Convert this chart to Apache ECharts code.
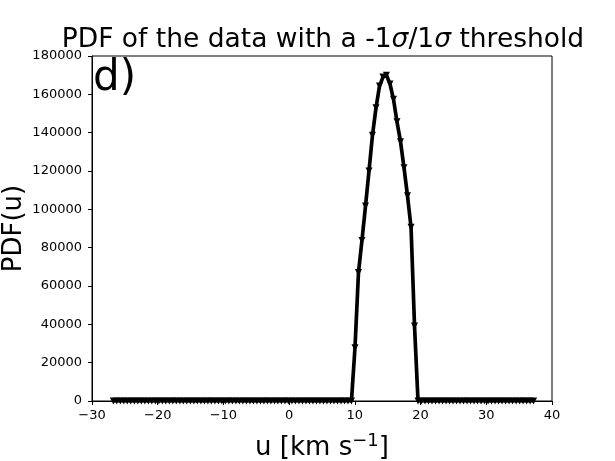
<!DOCTYPE html>
<html>
<head>
<meta charset="utf-8">
<script src="https://cdn.jsdelivr.net/npm/echarts@6/dist/echarts.min.js"></script>
<style>html,body{margin:0;padding:0;background:#fff}#c{width:615px;height:461px}</style>
</head>
<body>
<div id="c"></div>
<script>
var uValues = [
 -26.76,-26.23,-25.69,-25.16,-24.63,-24.10,-23.56,-23.03,-22.50,-21.96,
 -21.43,-20.90,-20.36,-19.83,-19.30,-18.77,-18.23,-17.70,-17.17,-16.63,
 -16.10,-15.57,-15.03,-14.50,-13.97,-13.43,-12.90,-12.37,-11.84,-11.30,
 -10.77,-10.24,-9.70,-9.17,-8.64,-8.11,-7.57,-7.04,-6.51,-5.97,
 -5.44,-4.91,-4.37,-3.84,-3.31,-2.78,-2.24,-1.71,-1.18,-0.64,
 -0.11,0.42,0.96,1.49,2.02,2.56,3.09,3.62,4.15,4.69,
 5.22,5.75,6.29,6.82,7.35,7.89,8.42,8.95,9.48,10.02,
 10.55,11.08,11.62,12.15,12.68,13.22,13.75,14.28,14.81,15.35,
 15.88,16.41,16.95,17.48,18.01,18.55,19.08,19.61,20.14,20.68,
 21.21,21.74,22.28,22.81,23.34,23.88,24.41,24.94,25.47,26.01,
 26.54,27.07,27.61,28.14,28.67,29.21,29.74,30.27,30.80,31.34,
 31.87,32.40,32.94,33.47,34.00,34.54,35.07,35.60,36.14,36.67,
 37.20
];
var pdfValues = [
 0,0,0,0,0,0,0,0,0,0,
 0,0,0,0,0,0,0,0,0,0,
 0,0,0,0,0,0,0,0,0,0,
 0,0,0,0,0,0,0,0,0,0,
 0,0,0,0,0,0,0,0,0,0,
 0,0,0,0,0,0,0,0,0,0,
 0,0,0,0,0,0,0,0,0,27800,
 67000,83800,101700,120000,138600,153000,164300,169000,170000,165400,
 157400,145700,135300,121700,107100,90600,39100,0,0,0,
 0,0,0,0,0,0,0,0,0,0,
 0,0,0,0,0,0,0,0,0,0,
 0,0,0,0,0,0,0,0,0,0,
 0
];
var xTicks = [-30,-20,-10,0,10,20,30,40];
var yTicks = [0,20000,40000,60000,80000,100000,120000,140000,160000,180000];

var data = uValues.map(function(u,i){return [u,pdfValues[i]];});
var fam = 'DejaVu Sans';
var chart = echarts.init(document.getElementById('c'));
chart.setOption({
  animation:false,
  backgroundColor:'#fff',
  title:{
    text:'PDF of the data with a -1{i|σ}/1{i|σ} threshold',
    left:318, top:22, textAlign:'center',
    textStyle:{fontFamily:fam,fontSize:26.5,fontWeight:'normal',color:'#000',
      rich:{i:{fontFamily:fam,fontSize:26.5,fontStyle:'italic',color:'#000'}}}
  },
  grid:{left:92,right:63,top:56,bottom:60,show:true,borderColor:'#000',borderWidth:1,
    backgroundColor:'transparent',outerBoundsMode:'none',containLabel:false},
  xAxis:{
    type:'value',min:xTicks[0],max:xTicks[xTicks.length-1],interval:10,
    name:'u [km s{s|−1}]',nameLocation:'middle',nameGap:31,nameMoveOverlap:false,
    nameTextStyle:{fontFamily:fam,fontSize:26,color:'#000',
      rich:{s:{fontFamily:fam,fontSize:18,verticalAlign:'top',padding:[0,0,14,0],color:'#000'}}},
    axisLine:{show:true,onZero:false,lineStyle:{color:'#000',width:1}},
    axisTick:{show:true,inside:false,length:4,lineStyle:{color:'#000'}},
    axisLabel:{fontFamily:fam,fontSize:13,color:'#000',margin:8,
      formatter:function(v){return String(v).replace('-','−');}},
    splitLine:{show:false}
  },
  yAxis:{
    type:'value',min:yTicks[0],max:yTicks[yTicks.length-1],interval:20000,
    name:'PDF(u)',nameLocation:'middle',nameGap:65,nameRotate:90,nameMoveOverlap:false,
    nameTextStyle:{fontFamily:fam,fontSize:26,color:'#000'},
    axisLine:{show:true,onZero:false,lineStyle:{color:'#000',width:1}},
    axisTick:{show:true,inside:false,length:4,lineStyle:{color:'#000'}},
    axisLabel:{fontFamily:fam,fontSize:13,color:'#000',margin:10,
      formatter:function(v){return String(v);}},
    splitLine:{show:false}
  },
  graphic:[{type:'text',left:93,top:58,style:{text:'d)',font:'42px "DejaVu Sans"',fill:'#000'}}],
  series:[{
    type:'line',data:data,
    lineStyle:{color:'#000',width:3.7},
    itemStyle:{color:'#000'},
    symbol:'triangle',symbolRotate:180,symbolSize:7,showSymbol:true,
    z:3
  }]
});
</script>
</body>
</html>
